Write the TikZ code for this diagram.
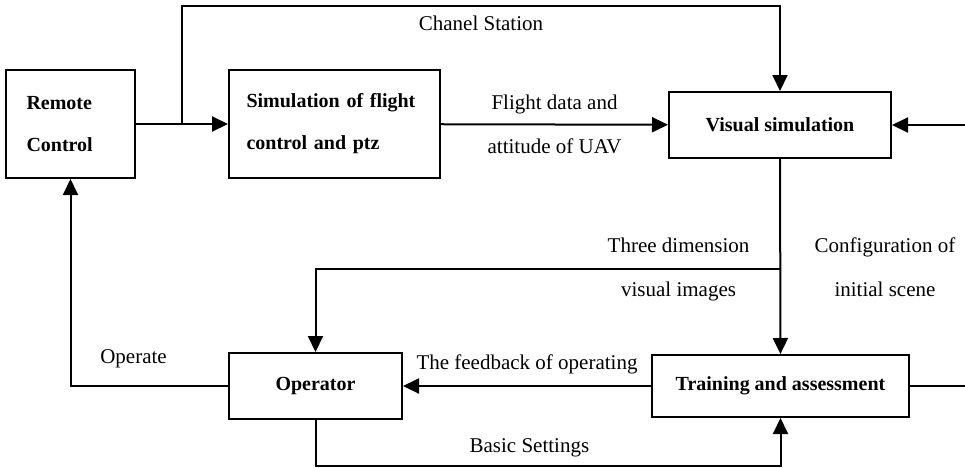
\documentclass[tikz,border=0pt]{standalone}
\usepackage{fontspec}
\setmainfont{Liberation Serif}
\usetikzlibrary{arrows.meta}

\begin{document}
\begin{tikzpicture}[x=0.5pt, y=-0.5pt, line width=1pt,
		block/.style={draw, font=\fontsize{10}{21}\selectfont\bfseries},
		lbl/.style={font=\fontsize{10.5}{22}\selectfont, align=center},
		arr/.style={-{Triangle[length=8pt,width=7.5pt]}}]
				\useasboundingbox (0,0) rectangle (965,467);
				
				\node[block, minimum width=64.5pt, minimum height=54pt, text width=44pt, align=left] (rc) at (70.5,124) {Remote\\Control};
				\node[block, minimum width=105.5pt, minimum height=54pt, text width=88pt, align=left] (sim) at (334.5,124) {Simulation of flight\\control and ptz};
				\node[block, minimum width=111pt, minimum height=33pt] (vis) at (780,125) {Visual simulation};
				\node[block, minimum width=128.5pt, minimum height=31pt] (ta) at (780.5,386) {Training and assessment};
				\node[block, minimum width=86.5pt, minimum height=33pt] (op) at (315.5,386) {Operator};
				
				\coordinate (j) at (182,125);
				\coordinate (top) at (182,6);
				\coordinate (rt) at (969,125);
				\coordinate (b2) at (781,269);
				\coordinate (bot) at (780.5,466);
				
				\draw[arr] (rc) -- (sim);
				\draw[arr] (j) -- (top) -| node[pos=0.25, lbl, below=1pt] {Chanel Station} (vis);
				\draw[arr] (sim) -- node[lbl] {Flight data and\\attitude of UAV} (vis);
				\draw[arr] (ta) -| (rt) -- (vis);
				\draw[arr] (vis) -- (ta);
				\draw[arr] (b2) -| node[pos=0.11, lbl] {Three dimension\\visual images} (op);
				\node[lbl] (cfg) at (885,267) {Configuration of\\initial scene};
				\draw[arr] (ta) -- node[lbl, above=2pt] {The feedback of operating} (op);
				\draw[arr] (op) -| node[pos=0.3, lbl, above=5pt] {Operate} (rc);
				\draw[arr] (op) |- node[pos=0.73, lbl, above=0.5pt] {Basic Settings} (bot) -- (ta);
			\end{tikzpicture}
\end{document}
